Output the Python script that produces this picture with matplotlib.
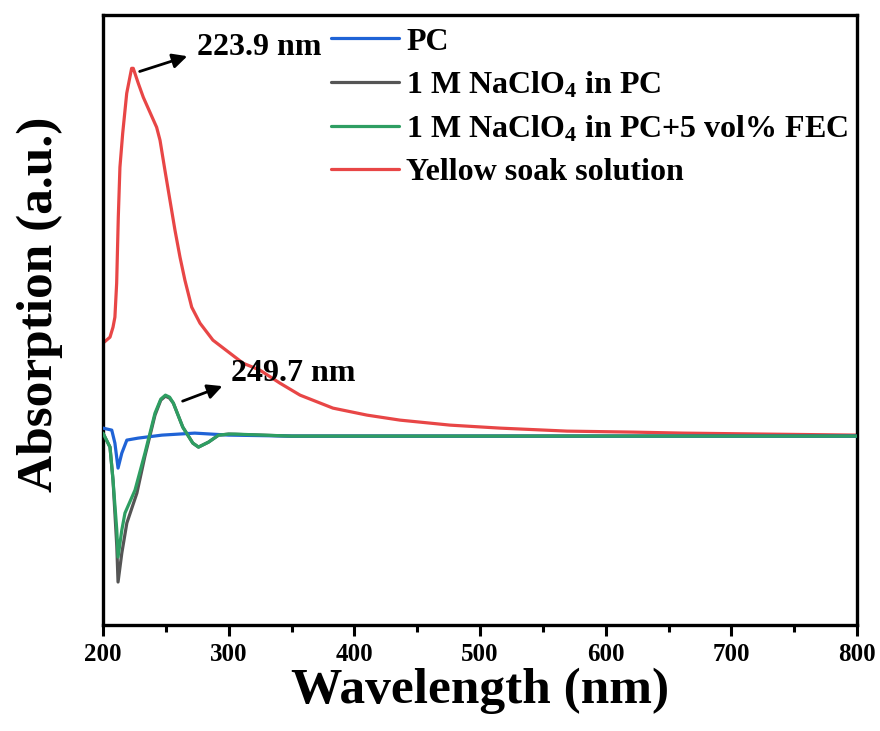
import matplotlib
matplotlib.use("Agg")
import matplotlib.pyplot as plt
from matplotlib.ticker import MultipleLocator

plt.rcParams['font.family'] = ['Liberation Serif', 'DejaVu Serif']
plt.rcParams['font.weight'] = 'bold'
plt.rcParams['mathtext.fontset'] = 'custom'
plt.rcParams['mathtext.rm'] = 'Liberation Serif:bold'
plt.rcParams['mathtext.it'] = 'Liberation Serif:bold'
plt.rcParams['mathtext.bf'] = 'Liberation Serif:bold'
plt.rcParams['mathtext.default'] = 'rm'

# ---- data ----
pc_x = [200, 207, 209.5, 212, 215, 219, 228, 247, 273, 300, 350, 500, 800]
pc_y = [0.08, 0.06, -0.07, -0.32, -0.17, -0.04, -0.02, 0.01, 0.03, 0.01, 0.0, 0.0, 0.0]

na_x = [200, 205.6, 208, 211, 212, 215, 219, 227, 233.4, 241.4, 246, 249.7, 253, 256, 263.5, 271.5, 276, 284, 292, 300, 350, 800]
na_y = [0.03, -0.11, -0.44, -1.1, -1.46, -1.17, -0.87, -0.57, -0.2, 0.21, 0.36, 0.40, 0.38, 0.33, 0.09, -0.07, -0.11, -0.06, 0.01, 0.02, 0.0, 0.0]

fec_x = [200, 205.6, 208, 211, 212, 215, 217.5, 225.5, 233.4, 241.4, 246, 249.7, 253, 256, 263.5, 271.5, 276, 284, 292, 300, 305, 350, 800]
fec_y = [0.03, -0.11, -0.44, -0.94, -1.21, -0.94, -0.77, -0.54, -0.17, 0.23, 0.37, 0.41, 0.39, 0.33, 0.09, -0.07, -0.11, -0.06, 0.01, 0.02, 0.02, 0.0, 0.0]

ys_x = [200, 205.6, 208, 209.5, 210.9, 212.2, 213.5, 215.7, 218.9, 222.8, 224.1, 228.1, 232.1, 237.4, 242.7, 245.4,
        249.3, 253.3, 257.3, 261.3, 265.2, 270.6, 277.2, 287.5, 301.0, 311.4, 324.9, 340.8, 356.8, 383.0, 410.1,
        436.3, 476.1, 515.9, 569.2, 621.7, 661.5, 728.4, 800]
ys_y = [0.93, 0.99, 1.09, 1.19, 1.53, 2.19, 2.69, 3.03, 3.43, 3.68, 3.68, 3.53, 3.39, 3.24, 3.09, 2.96,
        2.66, 2.36, 2.06, 1.79, 1.56, 1.29, 1.13, 0.96, 0.83, 0.73, 0.66, 0.53, 0.41, 0.28, 0.21,
        0.16, 0.11, 0.08, 0.05, 0.04, 0.03, 0.02, 0.01]

labels = ['PC', '1 M NaClO$_4$ in PC', '1 M NaClO$_4$ in PC+5 vol% FEC', 'Yellow soak solution']
colors = ['#1f63d6', '#555555', '#2e9e62', '#e84646']

peak1 = (223.9, 3.68)
peak2 = (249.7, 0.41)

fig = plt.figure(figsize=(8.8, 7.31), dpi=100)
ax = fig.add_axes([0.117, 0.145, 0.857, 0.834])

lw = 2.3
kw = dict(lw=lw, solid_joinstyle='round', solid_capstyle='round')
ax.plot(pc_x, pc_y, color=colors[0], label=labels[0], zorder=3, **kw)
ax.plot(na_x, na_y, color=colors[1], label=labels[1], zorder=2, **kw)
ax.plot(fec_x, fec_y, color=colors[2], label=labels[2], zorder=4, **kw)
ax.plot(ys_x, ys_y, color=colors[3], label=labels[3], zorder=1, **kw)

ax.set_xlim(200, 800)
ax.set_ylim(-1.89, 4.21)
ax.xaxis.set_major_locator(MultipleLocator(100))
ax.xaxis.set_minor_locator(MultipleLocator(50))
ax.set_yticks([])
ax.tick_params(axis='x', which='major', direction='out', length=8, width=2.2, labelsize=18, pad=5)
ax.tick_params(axis='x', which='minor', direction='out', length=5, width=2.2)
for lab in ax.get_xticklabels():
    lab.set_fontweight('bold')
for s in ax.spines.values():
    s.set_linewidth(2.4)

ax.set_xlabel('Wavelength (nm)', fontsize=37, fontweight='bold', labelpad=1)
ax.set_ylabel('Absorption (a.u.)', fontsize=37, fontweight='bold', labelpad=29, y=0.526)

leg = ax.legend(loc='upper right', bbox_to_anchor=(1.014, 1.012), frameon=False, fontsize=23,
                handlelength=2.1, handletextpad=0.24, labelspacing=0.42, borderaxespad=0.2)
for t in leg.get_texts():
    t.set_fontweight('bold')

arrow = dict(arrowstyle='-|>', color='black', lw=2, mutation_scale=22)
ax.annotate('', xy=(peak1[0] + 45.3, peak1[1] + 0.13), xytext=(peak1[0] + 3.2, peak1[1] - 0.04), arrowprops=arrow)
ax.text(peak1[0] + 50.9, peak1[1] + 0.21, f'{peak1[0]} nm', fontsize=23, fontweight='bold', va='center', ha='left')
ax.annotate('', xy=(peak2[0] + 47.4, peak2[1] + 0.10), xytext=(peak2[0] + 11.6, peak2[1] - 0.07), arrowprops=arrow)
ax.text(peak2[0] + 52.2, peak2[1] + 0.22, f'{peak2[0]} nm', fontsize=23, fontweight='bold', va='center', ha='left')

fig.savefig('out.png', dpi=100)
